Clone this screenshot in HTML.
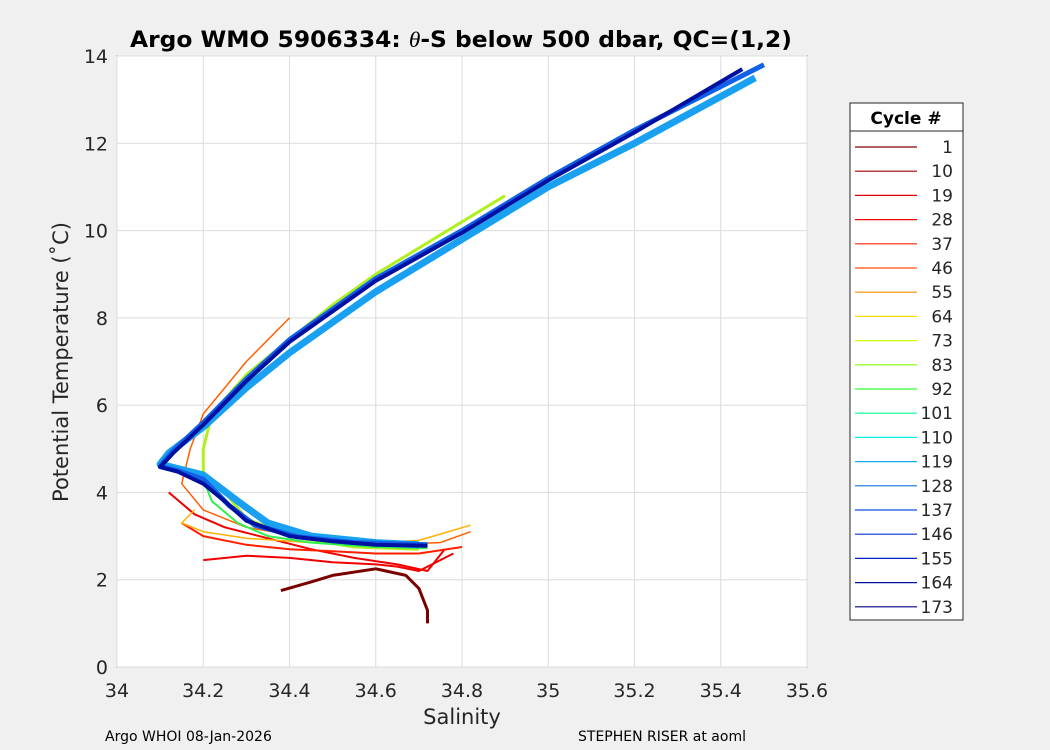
<!DOCTYPE html>
<html><head><meta charset="utf-8"><style>
body{margin:0;background:#f0f0f0;}
svg{display:block;font-family:"DejaVu Sans","Liberation Sans",sans-serif;}
</style></head><body>
<svg id="chart" width="1050" height="750">
<rect width="1050" height="750" fill="#f0f0f0"/>
<rect x="117" y="56" width="690" height="611" fill="#fff" stroke="#262626" stroke-width="1"/>
<g id="grid"></g>
<g id="lines"></g>
<g id="ticks"></g>
<text x="461" y="47" text-anchor="middle" font-size="22" font-weight="bold" textLength="662" lengthAdjust="spacingAndGlyphs">Argo WMO 5906334: <tspan font-family="Liberation Serif" font-style="italic" font-weight="normal">θ</tspan>-S below 500 dbar,  QC=(1,2)</text>
<text x="462" y="724" text-anchor="middle" font-size="21" fill="#262626">Salinity</text>
<text transform="translate(68,362) rotate(-90)" text-anchor="middle" font-size="21" fill="#262626">Potential Temperature (˚C)</text>
<text x="105" y="741" font-size="14">Argo WHOI 08-Jan-2026</text>
<text x="578" y="741" font-size="14">STEPHEN RISER at aoml</text>
<g id="legend">
<rect x="850" y="103" width="113" height="517" fill="#fff" stroke="#262626"/>
<line x1="850" y1="131" x2="963" y2="131" stroke="#262626"/>
<text x="906" y="124" text-anchor="middle" font-size="17" font-weight="bold">Cycle #</text>
</g>
</svg>
<script>
const xTicks=[34,34.2,34.4,34.6,34.8,35,35.2,35.4,35.6];
const xTickLabels=["34","34.2","34.4","34.6","34.8","35","35.2","35.4","35.6"];
const yTicks=[0,2,4,6,8,10,12,14];
const legendCycles=[1,10,19,28,37,46,55,64,73,83,92,101,110,119,128,137,146,155,164,173];
const legendColors=["#800000","#a00000","#e00000","#f00000","#ff2000","#ff5010","#ff8a00","#ffd800","#c8ff00","#80ff00","#30ff30","#00ff90","#00f0e0","#10b0f0","#1070e0","#1050e0","#0830d0","#0020c0","#0010a0","#000080"];
const groupColors=["#7a0000","#f00000","#f00000","#ff2000","#ff6000","#ffb000","#b0f020","#30f050","#1aa0f0","#1060e8","#0010a0"];
const groupWidths=[3,2,2,2,1.5,1.5,3,2,7,5,4];
const groupS=[
 [34.38,34.45,34.5,34.6,34.67,34.7,34.72,34.72],
 [34.12,34.18,34.25,34.35,34.45,34.55,34.65,34.72,34.76],
 [34.2,34.3,34.4,34.5,34.6,34.65,34.7,34.78],
 [34.15,34.2,34.3,34.4,34.5,34.6,34.7,34.8],
 [34.4,34.3,34.2,34.17,34.15,34.2,34.3,34.45,34.6,34.75,34.82],
 [34.18,34.15,34.2,34.3,34.45,34.6,34.7,34.82],
 [34.9,34.8,34.6,34.5,34.4,34.3,34.22,34.2,34.2,34.25,34.3,34.4,34.55,34.7],
 [34.2,34.22,34.28,34.35,34.45,34.6,34.72],
 [35.48,35.2,35.0,34.8,34.6,34.4,34.3,34.2,34.12,34.1,34.2,34.28,34.35,34.45,34.6,34.7],
 [35.5,35.2,35.0,34.8,34.6,34.4,34.3,34.2,34.13,34.1,34.14,34.2,34.26,34.32,34.42,34.55,34.72],
 [35.45,35.2,35.0,34.8,34.6,34.4,34.3,34.2,34.13,34.1,34.14,34.2,34.25,34.3,34.4,34.5,34.6,34.72]];
const groupT=[
 [1.75,1.95,2.1,2.25,2.1,1.8,1.3,1.0],
 [4.0,3.5,3.2,2.95,2.7,2.5,2.35,2.2,2.7],
 [2.45,2.55,2.5,2.4,2.35,2.3,2.2,2.6],
 [3.3,3.0,2.8,2.7,2.65,2.6,2.6,2.75],
 [8.0,7.0,5.8,5.0,4.2,3.6,3.2,2.95,2.8,2.85,3.1],
 [3.6,3.3,3.1,2.95,2.85,2.85,2.9,3.25],
 [10.8,10.2,9.0,8.3,7.5,6.7,5.8,5.0,4.4,4.0,3.4,3.0,2.75,2.7],
 [4.3,3.8,3.3,3.0,2.85,2.75,2.72],
 [13.5,12.0,11.0,9.8,8.6,7.2,6.4,5.5,4.9,4.65,4.4,3.8,3.3,3.0,2.85,2.8],
 [13.8,12.3,11.2,10.0,8.9,7.5,6.6,5.6,4.95,4.6,4.5,4.3,3.7,3.25,2.98,2.85,2.8],
 [13.7,12.25,11.15,9.95,8.85,7.45,6.55,5.55,4.9,4.58,4.48,4.2,3.8,3.35,3.0,2.88,2.8,2.78]];
const NS='http://www.w3.org/2000/svg';
const X0=117,X1=807,Y0=667,Y1=56;
function xs(v){return X0+(v-34)/(35.6-34)*(X1-X0);}
function ys(v){return Y0-(v-0)/(14-0)*(Y0-Y1);}
const grid=document.getElementById('grid'),tk=document.getElementById('ticks'),lg=document.getElementById('lines'),leg=document.getElementById('legend');
function mk(t,a,p){const e=document.createElementNS(NS,t);for(const k in a)e.setAttribute(k,a[k]);p.appendChild(e);return e;}
xTicks.forEach((v,i)=>{
 const g=mk('line',{x1:xs(v),x2:xs(v),y1:Y0,y2:Y1,stroke:'#dcdcdc','stroke-width':1},grid);
 
 
 const t=mk('text',{x:xs(v),y:697,'text-anchor':'middle','font-size':19,fill:'#262626'},tk);
 t.textContent=xTickLabels[i];
 
 
});
yTicks.forEach(v=>{
 const g=mk('line',{x1:X0,x2:X1,y1:ys(v),y2:ys(v),stroke:'#dcdcdc','stroke-width':1},grid);
 
 
 const t=mk('text',{x:108,y:ys(v)+7,'text-anchor':'end','font-size':19,fill:'#262626'},tk);
 t.textContent=String(v);
 
 
});
groupS.forEach((s,g)=>{
 const pts=s.map((v,i)=>xs(v).toFixed(1)+','+ys(groupT[g][i]).toFixed(1)).join(' ');
 const p=mk('polyline',{points:pts,fill:'none',stroke:groupColors[g],'stroke-width':groupWidths[g],'stroke-linejoin':'round'},lg);
 
 
});
legendCycles.forEach((c,i)=>{
 const y=147+i*24.2;
 const l=mk('line',{x1:855,x2:917,y1:y,y2:y,stroke:legendColors[i],'stroke-width':1.2},leg);
 
 
 const t=mk('text',{x:953,y:y+6,'text-anchor':'end','font-size':17,fill:'#262626'},leg);
 t.textContent=String(c);
 
 
});
</script>
</body></html>
